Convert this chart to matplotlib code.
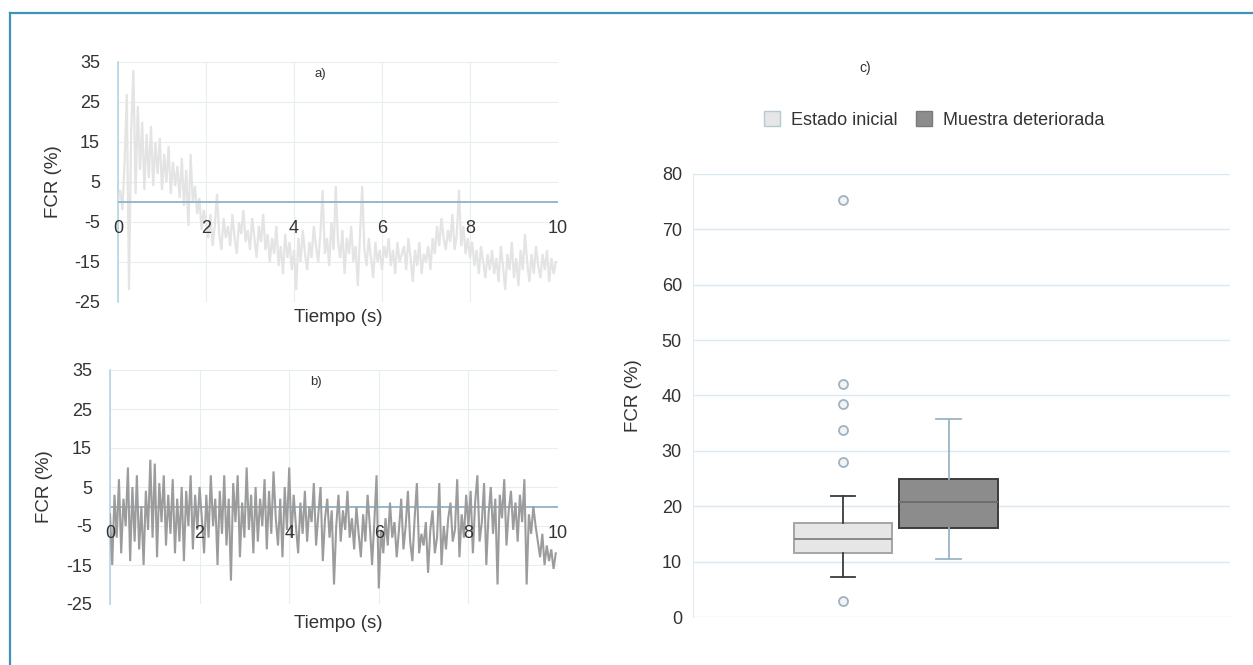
import numpy as np
import matplotlib
matplotlib.use("Agg")
import matplotlib.pyplot as plt
from matplotlib.patches import Patch
from matplotlib.lines import Line2D

plt.rcParams['font.family'] = ['Liberation Sans', 'DejaVu Sans']
plt.rcParams['axes.unicode_minus'] = False

# ---------------- data ----------------
time_step = 0.05
signal_a = [
    0, 3, -2, 10, 27, -22, 18, 33, 2, 24,
    8, 20, 3, 17, 6, 19, 4, 15, 7, 16,
    3, 12, 5, 14, 2, 10, 4, 9, 1, 11,
    -1, 8, -6, 12, 0, 4, -3, 1, -7, -2,
    -5, -9, -3, -11, -6, 2, -8, -12, -4, -9,
    -6, -11, -3, -9, -13, -5, -8, -2, -10, -7,
    -12, -4, -9, -14, -6, -10, -3, -12, -8, -15,
    -9, -13, -6, -16, -11, -18, -8, -14, -10, -17,
    -12, -22, -9, -15, -7, -13, -17, -10, -14, -6,
    -11, -15, -8, 3, -13, -9, -16, -5, -12, 4,
    -10, -14, -7, -18, -9, -13, -6, -15, -11, -21,
    -8, 4, -12, -16, -9, -14, -19, -10, -15, -12,
    -17, -11, -14, -9, -16, -12, -18, -10, -15, -13,
    -11, -17, -9, -14, -20, -12, -16, -10, -18, -13,
    -15, -11, -17, -9, -13, -6, -11, -4, -9, -12,
    -7, -10, -3, -12, -8, 3, -11, -6, -13, -9,
    -14, -10, -16, -12, -18, -11, -15, -19, -13, -17,
    -12, -18, -14, -20, -11, -16, -22, -13, -17, -10,
    -19, -14, -21, -12, -17, -8, -15, -20, -13, -18,
    -11, -16, -19, -13, -17, -12, -20, -14, -18, -15,
]
signal_b = [
    -2, -15, 3, -8, 7, -12, 2, -5, 10, -14,
    5, -9, 8, -11, 0, -15, 4, -6, 12, -8,
    11, -13, 6, -4, 8, -10, 3, -7, 7, -12,
    2, -9, 5, -14, 4, -5, 8, -11, 3, -6,
    5, -3, -12, 3, -8, 8, -5, 2, -15, 4,
    -7, 8, -10, 2, -19, 6, -4, 8, -13, 1,
    -8, 10, -6, 3, -12, 5, -9, 2, -5, 7,
    -11, 4, -7, 9, -3, -10, 2, -13, 5, -6,
    10, -8, 3, -5, -12, 1, -7, 4, -9, 0,
    -4, 6, -10, -2, 5, -14, -3, 2, -8, -1,
    -20, -5, 3, -9, -1, -6, 4, -8, -3, -11,
    0, -7, -13, -2, -9, 3, -5, -15, -4, 8,
    -21, -6, -12, -3, -10, 1, -8, -4, -13, -6,
    2, -11, -5, 4, -9, -14, -3, 6, -12, -7,
    -10, -4, -17, -6, -1, -12, -8, 6, -15, -5,
    -11, -3, 1, -9, -6, 7, -13, -2, -8, 3,
    -5, 4, -12, 1, 8, -9, -4, 6, -15, -2,
    5, -7, 2, -20, 3, -3, 7, -10, -1, 4,
    -6, 1, -9, 3, -4, 7, -20, -2, -7, 0,
    -5, -9, -13, -7, -15, -10, -14, -11, -16, -12,
]
t_a = np.arange(len(signal_a)) * time_step
t_b = np.arange(len(signal_b)) * time_step

x_ticks = [0, 2, 4, 6, 8, 10]
y_ticks_ts = [-25, -15, -5, 5, 15, 25, 35]

groups = ["Estado inicial", "Muestra deteriorada"]
q1 = [11.5, 16.0]
med = [14.0, 20.7]
q3 = [17.0, 25.0]
whislo = [7.3, 10.4]
whishi = [21.8, 35.7]
fliers_initial = [75.3, 42.0, 38.5, 33.7, 28.0, 2.8]
fliers_deteriorated = []
y_ticks_box = [0, 10, 20, 30, 40, 50, 60, 70, 80]

# ---------------- figure ----------------
W, H = 1253, 665
fig = plt.figure(figsize=(W / 100, H / 100), dpi=100)

def px_axes(x0, y0, x1, y1):
    return fig.add_axes([x0 / W, 1 - y1 / H, (x1 - x0) / W, (y1 - y0) / H])

grid_c = '#e6eef3'
spine_c = '#b7d3e3'
text_c = '#333333'


def ts_panel(ax, t, y, color, label, lw, zero_on_top, ylab_x):
    ax.plot(t, y, color=color, lw=lw, zorder=3, solid_joinstyle='miter')
    ax.set_xlim(0, 10)
    ax.set_ylim(-25, 35)
    ax.set_yticks(y_ticks_ts)
    ax.set_xticks(x_ticks)
    ax.set_xticklabels([])
    ax.grid(True, color=grid_c, lw=0.8, zorder=0)
    ax.set_axisbelow(True)
    for s in ['top', 'right', 'bottom']:
        ax.spines[s].set_visible(False)
    ax.spines['left'].set_color(spine_c)
    ax.spines['left'].set_linewidth(1.2)
    ax.axhline(0, color='#8fb2c8', lw=1.3, zorder=4 if zero_on_top else 2)
    ax.tick_params(axis='both', length=0, labelsize=13, colors=text_c)
    ax.tick_params(axis='y', pad=13)
    for xt in x_ticks:
        ax.annotate(str(xt), xy=(xt, 0), xytext=(0, -13), textcoords='offset points',
                    ha='center', va='top', fontsize=13, color=text_c, zorder=6,
                    annotation_clip=False)
    ax.set_ylabel('FCR (%)', fontsize=13.5, color=text_c)
    ax.yaxis.set_label_coords(ylab_x, 0.5)
    ax.text(4.6, 32, label, ha='center', va='center', fontsize=9.5, color=text_c)


ax_a = px_axes(118, 62, 558, 302)
ts_panel(ax_a, t_a, signal_a, '#e4e4e4', 'a)', 1.6, True, -0.128)
fig.text(338 / W, 1 - 318 / H, 'Tiempo (s)', ha='center', va='center', fontsize=13.5, color=text_c)

ax_b = px_axes(110, 370, 558, 604)
ts_panel(ax_b, t_b, signal_b, '#9c9c9c', 'b)', 1.5, False, -0.127)
fig.text(338 / W, 1 - 624 / H, 'Tiempo (s)', ha='center', va='center', fontsize=13.5, color=text_c)

# ---------------- box plot ----------------
ax_c = px_axes(693, 174, 1230, 617)
stats = []
fliers_all = [fliers_initial, fliers_deteriorated]
for i, g in enumerate(groups):
    stats.append(dict(label=g, q1=q1[i], med=med[i], q3=q3[i],
                      whislo=whislo[i], whishi=whishi[i], fliers=fliers_all[i]))

positions = [1, 2]
face_cols = ['#e6e6e6', '#8c8c8c']
edge_cols = ['#a5a5a5', '#3c3c3c']
whisk_cols = ['#3a3a3a', '#9db4c4']
med_cols = ['#8a8a8a', '#6e6e6e']
for i in range(2):
    ax_c.bxp([stats[i]], positions=[positions[i]], widths=0.93, capwidths=0.23,
             patch_artist=True, showfliers=True,
             boxprops=dict(facecolor=face_cols[i], edgecolor=edge_cols[i], lw=1.4),
             whiskerprops=dict(color=whisk_cols[i], lw=1.3),
             capprops=dict(color=whisk_cols[i], lw=1.3),
             medianprops=dict(color=med_cols[i], lw=1.4),
             flierprops=dict(marker='o', markersize=6.5, markerfacecolor='#f3f3f3',
                             markeredgecolor='#9fb3c2', markeredgewidth=1.3))
ax_c.set_xlim(-0.422, 4.668)
ax_c.set_ylim(0, 80)
ax_c.set_yticks(y_ticks_box)
ax_c.set_xticks([])
ax_c.grid(True, axis='y', color='#dbe9f1', lw=1.0, zorder=0)
ax_c.set_axisbelow(True)
for s in ['top', 'right', 'bottom']:
    ax_c.spines[s].set_visible(False)
ax_c.spines['left'].set_color('#e1ecf2')
ax_c.tick_params(axis='y', length=0, labelsize=13, colors=text_c, pad=8)
ax_c.set_ylabel('FCR (%)', fontsize=13.5, color=text_c, labelpad=14)

fig.text(865 / W, 1 - 68 / H, 'c)', ha='center', va='center', fontsize=10, color=text_c)
handles = [Patch(facecolor=face_cols[0], edgecolor='#b8c8d2', label=groups[0]),
           Patch(facecolor=face_cols[1], edgecolor='#7a7a7a', label=groups[1])]
fig.legend(handles=handles, loc='center', bbox_to_anchor=(934 / W, 1 - 120 / H),
           ncol=2, frameon=False, fontsize=13, handlelength=0.9, handleheight=0.9,
           handletextpad=0.6, columnspacing=1.0, labelcolor=text_c)

# ---------------- border ----------------
border_c = '#3e93bb'
fig.add_artist(Line2D([10 / W, 10 / W], [0, 1 - 13 / H], transform=fig.transFigure,
                      color=border_c, lw=1.6))
fig.add_artist(Line2D([10 / W, 1], [1 - 13 / H, 1 - 13 / H], transform=fig.transFigure,
                      color=border_c, lw=1.6))

fig.savefig('out.png', dpi=100)
